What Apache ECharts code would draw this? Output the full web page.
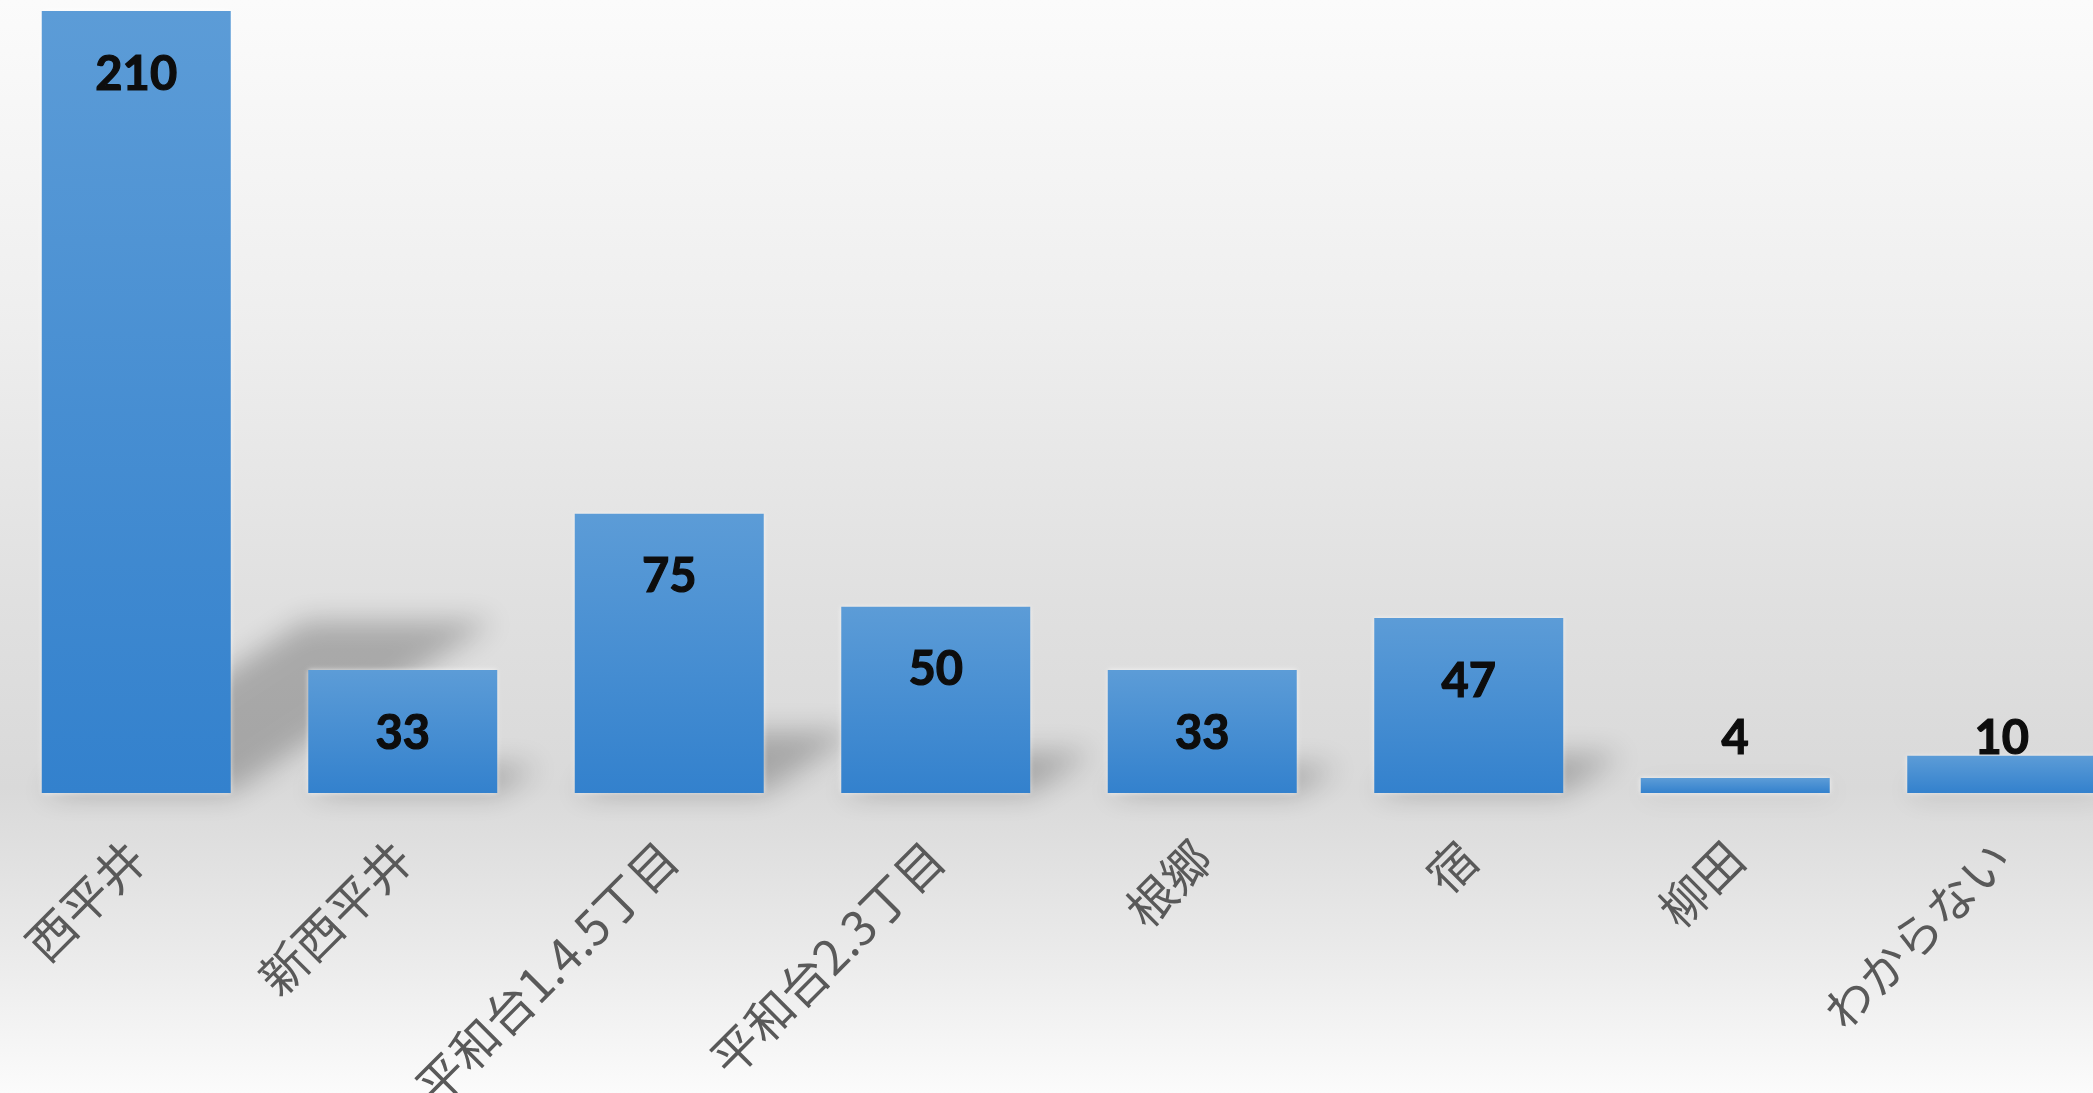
<!DOCTYPE html>
<html>
<head>
<meta charset="utf-8">
<style>
  html, body { margin: 0; padding: 0; overflow: hidden; width: 2093px; height: 1093px; }
  #wrap { position: relative; width: 2093px; height: 1093px; overflow: hidden; }
  #chart { position: absolute; left: 0; top: 0; width: 2140px; height: 1093px; }
</style>
<script src="https://cdn.jsdelivr.net/npm/echarts@6/dist/echarts.min.js"></script>
</head>
<body>
<div id="wrap"><div id="chart"></div></div>
<script>
// ---- data ----
const categories = ['西平井', '新西平井', '平和台1.4.5丁目', '平和台2.3丁目', '根郷', '宿', '柳田', 'わからない'];
const counts = [210, 33, 75, 50, 33, 47, 4, 10];
const yMax = 210;

// ---- styling constants ----
const BAR_W = 189;
const chart = echarts.init(document.getElementById('chart'), null, { renderer: 'canvas' });

const barGradient = new echarts.graphic.LinearGradient(0, 0, 0, 1, [
  { offset: 0, color: '#5c9cd7' },
  { offset: 1, color: '#3381cd' }
]);

const bgGradient = new echarts.graphic.LinearGradient(0, 0, 0, 1, [
  { offset: 0, color: '#fbfbfb' },
  { offset: 0.3, color: '#eeeeee' },
  { offset: 0.55, color: '#e0e0e0' },
  { offset: 0.72, color: '#d9d9d9' },
  { offset: 0.86, color: '#e9e9e9' },
  { offset: 1, color: '#fbfbfb' }
]);

function renderShadow(params, api) {
  const idx = api.value(0);
  const v = api.value(1);
  const base = api.coord([idx, 0]);
  const top = api.coord([idx, v]);
  const h = (base[1] - top[1]) * 0.22;
  const s = h * 1.53;
  const x0 = base[0] - BAR_W / 2;
  const x1 = base[0] + BAR_W / 2;
  const y0 = base[1];
  const OFF = 5000;
  return {
    type: 'polygon',
    shape: {
      points: [[x0 - OFF, y0], [x1 - OFF, y0], [x1 + s - OFF, y0 - h], [x0 + s - OFF, y0 - h]]
    },
    style: {
      fill: '#000',
      shadowColor: 'rgba(0,0,0,0.24)',
      shadowBlur: 28,
      shadowOffsetX: OFF,
      shadowOffsetY: 0
    }
  };
}

const barData = counts.map(v => {
  const item = { value: v };
  if (v / yMax < 0.1) {
    item.label = { position: 'insideBottom', distance: 31 };
  }
  return item;
});

const option = {
  backgroundColor: bgGradient,
  animation: false,
  grid: {
    left: 3, top: 11, width: 2132, height: 782,
    containLabel: false,
    outerBoundsMode: 'none'
  },
  xAxis: {
    type: 'category',
    data: categories,
    axisLine: { show: false },
    axisTick: { show: false },
    axisLabel: {
      interval: 0,
      rotate: 45,
      margin: 57,
      color: '#595959',
      fontSize: 48,
      fontFamily: '"Noto Sans CJK JP", "Noto Sans", sans-serif'
    }
  },
  yAxis: {
    type: 'value',
    min: 0,
    max: yMax,
    show: false,
    splitLine: { show: false }
  },
  series: [
    {
      type: 'custom',
      renderItem: renderShadow,
      data: counts.map((v, i) => [i, v]),
      clip: false,
      silent: true,
      z: 1
    },
    {
      type: 'bar',
      data: barData,
      barWidth: BAR_W,
      z: 2,
      itemStyle: {
        color: barGradient,
        shadowColor: 'rgba(255,255,255,0.75)',
        shadowBlur: 5
      },
      label: {
        show: true,
        position: 'insideTop',
        distance: 40,
        color: '#0d0d0d',
        fontSize: 47,
        fontWeight: 'bold',
        fontFamily: 'Lato, "Open Sans", sans-serif',
        textBorderColor: '#0d0d0d',
        textBorderWidth: 1.2
      }
    }
  ]
};

chart.setOption(option);
</script>
</body>
</html>
